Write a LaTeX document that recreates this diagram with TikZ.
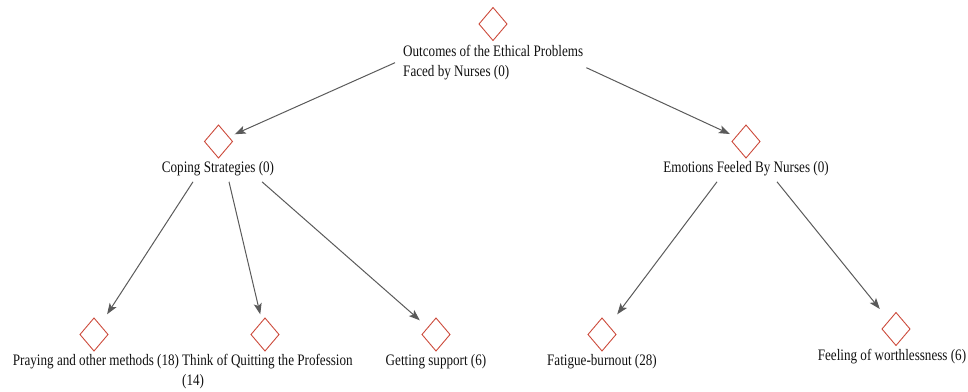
\documentclass[tikz,border=0pt]{standalone}
\usepackage{fontspec}
\usepackage{xcolor}
\usepackage{tikz}
\usetikzlibrary{arrows.meta,positioning}
\newfontfamily\codefont[FakeStretch=0.82]{Liberation Serif}
\definecolor{CodeRed}{HTML}{CC4B3C}
\definecolor{LinkGray}{HTML}{5A5A5A}
\definecolor{Ink}{HTML}{111111}

\begin{document}
\begin{tikzpicture}[
  x=1pt,y=-1pt,
  code/.style={minimum width=32pt,minimum height=40pt,inner sep=0pt,
    path picture={\draw[CodeRed,line width=0.9pt]
      ([yshift=16.5pt]path picture bounding box.center) -- ++(14pt,-16.5pt)
      -- ++(-14pt,-16.5pt) -- ++(-14pt,16.5pt) -- cycle;}},
  tag/.style={inner sep=5pt,text height=12pt,text depth=4pt,align=left,
    text=Ink,font=\codefont\fontsize{16}{20}\selectfont},
  arr/.style={-{Stealth[length=11pt,width=8pt,inset=2.5pt]},line width=1pt,draw=LinkGray}
]
\useasboundingbox (0,0) rectangle (968,391);

% code markers
\node[code] (rootD) at (493,24) {};
\node[code] (copingD) at (218.5,141.5) {};
\node[code] (emotionD) at (746,141.5) {};
\node[code] (prayD) at (94,334.5) {};
\node[code] (quitD) at (265,334.5) {};
\node[code] (supportD) at (436,334.5) {};
\node[code] (fatigueD) at (602,334.5) {};
\node[code] (worthD) at (896,329) {};

% code labels
\node[tag,anchor=west] (rootL) at (398,72.7) {Outcomes of the Ethical Problems\\Faced by Nurses (0)};
\node[tag] (copingL) at (218,168.6) {Coping Strategies (0)};
\node[tag] (emotionL) at (746,168.6) {Emotions Feeled By Nurses (0)};
\node[tag] (prayL) at (96,361.5) {Praying and other methods (18)};
\node[tag,anchor=west] (quitL) at (177,381) {Think of Quitting the Profession\\(14)};
\node[tag] (supportL) at (436,361.5) {Getting support (6)};
\node[tag] (fatigueL) at (602,361.5) {Fatigue-burnout (28)};
\node[tag] (worthL) at (892,356) {Feeling of worthlessness (6)};

% links
\draw[arr] ([xshift=-3pt,yshift=10pt]rootL.west) -- (copingD);
\draw[arr] ([xshift=-2pt,yshift=5pt]rootL.east) -- (emotionD);
\draw[arr] ([xshift=-25pt]copingL.south) -- (prayD);
\draw[arr] ([xshift=11pt]copingL.south) -- (quitD);
\draw[arr] ([xshift=44pt]copingL.south) -- (supportD);
\draw[arr] ([xshift=-29pt]emotionL.south) -- (fatigueD);
\draw[arr] ([xshift=31pt]emotionL.south) -- (worthD);
\end{tikzpicture}
\end{document}
